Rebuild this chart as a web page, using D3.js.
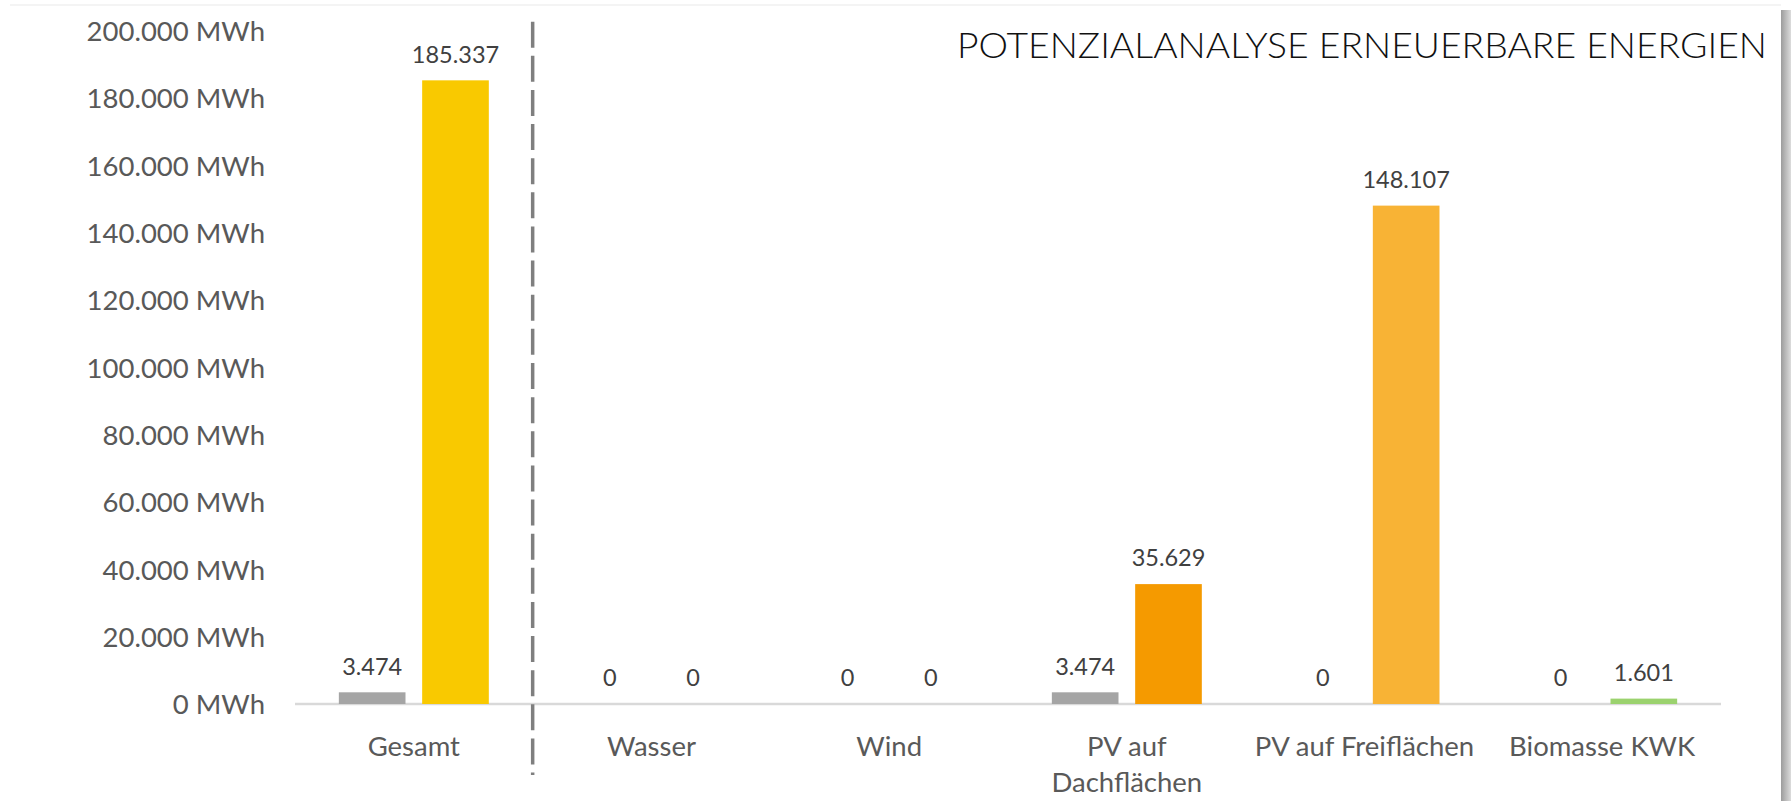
<!DOCTYPE html>
<html>
<head>
<meta charset="utf-8">
<script src="https://cdn.jsdelivr.net/npm/d3@7"></script>
<style>
  html, body { margin: 0; padding: 0; background: #fff; }
  svg { display: block; }
</style>
</head>
<body>
<svg id="chart" width="1791" height="801"></svg>
<script>
// ---- data ----
const categories = ["Gesamt", "Wasser", "Wind", "PV auf Dachflächen", "PV auf Freiflächen", "Biomasse KWK"];
const categoryLines = [["Gesamt"], ["Wasser"], ["Wind"], ["PV auf", "Dachflächen"], ["PV auf Freiflächen"], ["Biomasse KWK"]];
const bestand = [3474, 0, 0, 3474, 0, 0];
const potenzial = [185337, 0, 0, 35629, 148107, 1601];
const potenzialColors = ["#F9C900", "#5B9BD5", "#70AD47", "#F59A00", "#F8B335", "#9BD26E"];
const bestandColor = "#A5A5A5";
const yTicks = [0, 20000, 40000, 60000, 80000, 100000, 120000, 140000, 160000, 180000, 200000];
const title = "POTENZIALANALYSE ERNEUERBARE ENERGIEN";

(function () {
// ---- setup ----
const W = 1791, H = 801;
const svg = d3.select("#chart");
const de = d3.formatLocale({ decimal: ",", thousands: ".", grouping: [3], currency: ["", " €"] });
const fmt = de.format(",d");

const mLeft = 295, mRight = 1721, mTop = 31, mBottom = 704;

const x0 = d3.scaleBand().domain(categories).range([mLeft, mRight]).paddingInner(0.369).paddingOuter(0.1845);
const x1 = d3.scaleBand().domain(["bestand", "potenzial"]).range([0, x0.bandwidth()]).paddingInner(0.2);
const y = d3.scaleLinear().domain([0, 200000]).range([mBottom, mTop]);

// frame decorations
const defs = svg.append("defs");
const grad = defs.append("linearGradient").attr("id", "shadow").attr("x1", "0").attr("x2", "1").attr("y1", "0").attr("y2", "0");
grad.append("stop").attr("offset", "0").attr("stop-color", "#9c9c9c");
grad.append("stop").attr("offset", "1").attr("stop-color", "#dcdcdc");
svg.append("rect").attr("x", 1781).attr("y", 10).attr("width", 10).attr("height", H - 10).attr("fill", "url(#shadow)");
svg.append("line").attr("x1", 10).attr("x2", 1781).attr("y1", 5).attr("y2", 5).attr("stroke", "#f0f0f0").attr("stroke-width", 1.5);

// y axis
const yAxis = d3.axisLeft(y).tickValues(yTicks).tickSize(0).tickPadding(0).tickFormat(d => fmt(d) + " MWh");
const gy = svg.append("g").attr("transform", `translate(265,0)`).call(yAxis);
gy.select(".domain").remove();
gy.selectAll("text")
  .attr("font-family", "Lato, 'Noto Sans', sans-serif")
  .attr("font-size", 27.5)
  .attr("fill", "#595959")
  .attr("dy", "0.35em");

// baseline
svg.append("line").attr("x1", mLeft).attr("x2", mRight).attr("y1", y(0)).attr("y2", y(0))
  .attr("stroke", "#d9d9d9").attr("stroke-width", 2.5);

// x axis labels
const xAxis = d3.axisBottom(x0).tickSize(0).tickFormat("");
const gx = svg.append("g").attr("transform", `translate(0,${y(0)})`).call(xAxis);
gx.select(".domain").remove();
gx.selectAll(".tick").each(function (d, i) {
  const t = d3.select(this).append("text")
    .attr("font-family", "Lato, 'Noto Sans', sans-serif")
    .attr("font-size", 27.5)
    .attr("fill", "#595959")
    .attr("text-anchor", "middle");
  categoryLines[i].forEach((line, j) => {
    t.append("tspan").attr("x", 0).attr("y", 42 + j * 36.5).attr("dy", "0.35em").text(line);
  });
});

// bars
const groups = svg.append("g").selectAll("g").data(categories).join("g")
  .attr("transform", d => `translate(${x0(d)},0)`);

const barData = (d, i) => [
  { key: "bestand", value: bestand[i], color: bestandColor },
  { key: "potenzial", value: potenzial[i], color: potenzialColors[i] }
];

groups.each(function (d, i) {
  const g = d3.select(this);
  const data = barData(d, i);
  g.selectAll("rect").data(data).join("rect")
    .attr("x", b => x1(b.key))
    .attr("width", x1.bandwidth())
    .attr("y", b => y(b.value))
    .attr("height", b => y(0) - y(b.value))
    .attr("fill", b => b.color);
  g.selectAll("text").data(data).join("text")
    .attr("x", b => x1(b.key) + x1.bandwidth() / 2)
    .attr("y", b => y(b.value) - 26)
    .attr("dy", "0.35em")
    .attr("text-anchor", "middle")
    .attr("font-family", "Lato, 'Noto Sans', sans-serif")
    .attr("font-size", 23.5)
    .attr("fill", "#404040")
    .text(b => fmt(b.value));
});

// dashed separator between Gesamt and the rest
const sepX = (x0("Gesamt") + x0.bandwidth() + x0("Wasser")) / 2;
svg.append("line").attr("x1", sepX).attr("x2", sepX).attr("y1", 21.7).attr("y2", 775)
  .attr("stroke", "#7f7f7f").attr("stroke-width", 3.5).attr("stroke-dasharray", "26,8.13");

// title
svg.append("text")
  .attr("x", 957).attr("y", 46).attr("dy", "0.35em")
  .attr("font-family", "Lato, 'Noto Sans', sans-serif")
  .attr("font-weight", 300)
  .attr("font-size", 35)
  .attr("fill", "#111")
  .attr("textLength", 810)
  .attr("lengthAdjust", "spacingAndGlyphs")
  .text(title);
})();
</script>
</body>
</html>
